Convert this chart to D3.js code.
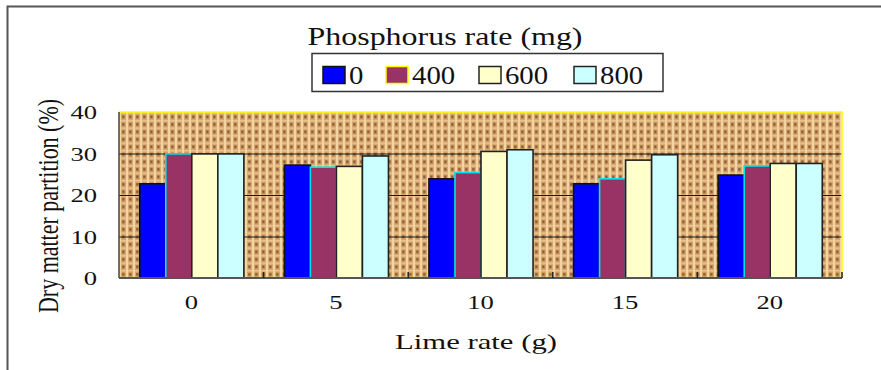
<!DOCTYPE html>
<html>
<head>
<meta charset="utf-8">
<script src="https://cdn.jsdelivr.net/npm/d3@7"></script>
<style>
  body { margin: 0; background: #fff; }
  svg text { font-family: "Liberation Serif", "Times New Roman", Times, serif !important; fill: #111; }
</style>
</head>
<body>
<script>
// data
let limeRates = ['0', '5', '10', '15', '20']
let phosphorusRates = ['0', '400', '600', '800']
let p0   = [22.7, 27.2, 23.9, 22.7, 24.8]
let p400 = [29.9, 26.7, 25.4, 23.9, 27.0]
let p600 = [29.9, 26.9, 30.5, 28.4, 27.6]
let p800 = [29.9, 29.4, 30.9, 29.7, 27.6]
let yTicks = [0, 10, 20, 30, 40]

let seriesValues = [p0, p400, p600, p800]
let fills = ['#0000ff', '#993366', '#ffffcc', '#ccffff']
let strokes = ['#111', '#00e5ee', '#222', '#222']
let legendStrokes = ['#111', '#ffff00', '#222', '#222']

let width = 881
let height = 370
let margin = { top: 112, right: 39, bottom: 92, left: 119 }

let data = limeRates.map((lime, i) => {
  let row = { lime }
  phosphorusRates.forEach((p, j) => { row[p] = seriesValues[j][i] })
  return row
})

// stretch text horizontally like the source picture
function stretch(sel, sx) {
  sel.each(function () {
    let w = this.getComputedTextLength()
    d3.select(this).attr('textLength', w * sx).attr('lengthAdjust', 'spacingAndGlyphs')
  })
}

const svg = d3.select('body').append('svg')
    .attr('width', width)
    .attr('height', height)

// burlap texture
let defs = svg.append('defs')
let pat = defs.append('pattern')
    .attr('id', 'burlap')
    .attr('patternUnits', 'userSpaceOnUse')
    .attr('width', 7).attr('height', 7.5)
pat.append('rect').attr('width', 7).attr('height', 7.5).attr('fill', '#d6a66d')
pat.append('rect').attr('x', 0).attr('y', 0).attr('width', 7).attr('height', 1.5).attr('fill', '#e8c28c')
pat.append('rect').attr('x', 0).attr('y', 0).attr('width', 2).attr('height', 7.5).attr('fill', '#f2d5a2')
pat.append('rect').attr('x', 3).attr('y', 2.8).attr('width', 2.8).attr('height', 3.2).attr('fill', '#a6754a')
pat.append('rect').attr('x', 3.6).attr('y', 3.5).attr('width', 1.4).attr('height', 1.6).attr('fill', '#835633')

// outer frame (left + top only visible)
svg.append('path')
    .attr('d', `M7.5,${height} V6.5 H${width}`)
    .attr('fill', 'none')
    .attr('stroke', '#555')
    .attr('stroke-width', 2)

let x = d3.scaleBand()
    .domain(limeRates)
    .range([margin.left, width - margin.right])
    .paddingInner(0.28)
    .paddingOuter(0.14)

let xs = d3.scaleBand()
    .domain(phosphorusRates)
    .range([0, x.bandwidth()])

let y = d3.scaleLinear()
    .domain([0, 40])
    .range([height - margin.bottom, margin.top])

let color = d3.scaleOrdinal().domain(phosphorusRates).range(fills)
let stroke = d3.scaleOrdinal().domain(phosphorusRates).range(strokes)

// plot background
svg.append('rect')
    .attr('x', margin.left)
    .attr('y', margin.top)
    .attr('width', width - margin.right - margin.left)
    .attr('height', y(0) - y(40))
    .attr('fill', 'url(#burlap)')

// gridlines
svg.append('g')
  .selectAll('line')
  .data(yTicks.filter(d => d > 0 && d < 40))
  .join('line')
    .attr('x1', margin.left)
    .attr('x2', width - margin.right)
    .attr('y1', d => y(d) + 0.5)
    .attr('y2', d => y(d) + 0.5)
    .attr('stroke', '#1a1a1a')
    .attr('stroke-width', 1.2)

// top and right border (yellow)
svg.append('path')
    .attr('d', `M${margin.left},${y(40)} H${width - margin.right} V${y(0)}`)
    .attr('fill', 'none')
    .attr('stroke', '#ffff00')
    .attr('stroke-width', 1.5)

// left border
svg.append('line')
    .attr('x1', margin.left).attr('x2', margin.left)
    .attr('y1', y(40)).attr('y2', y(0))
    .attr('stroke', '#444')
    .attr('stroke-width', 1.5)

// bars
svg.append('g')
  .selectAll('g')
  .data(data)
  .join('g')
    .attr('transform', d => `translate(${x(d.lime)},0)`)
  .selectAll('rect')
  .data(d => phosphorusRates.map(p => ({ key: p, value: d[p] })))
  .join('rect')
    .attr('x', d => xs(d.key) + 0.5)
    .attr('y', d => y(d.value))
    .attr('width', xs.bandwidth())
    .attr('height', d => y(0) - y(d.value))
    .attr('fill', d => color(d.key))
    .attr('stroke', d => stroke(d.key))
    .attr('stroke-width', 1.6)

// x axis line and boundary ticks
svg.append('line')
    .attr('x1', margin.left).attr('x2', width - margin.right)
    .attr('y1', y(0)).attr('y2', y(0))
    .attr('stroke', '#555')
    .attr('stroke-width', 2)

svg.append('g')
  .selectAll('line')
  .data(limeRates)
  .join('line')
    .attr('x1', d => x(d) + x.bandwidth() + (x.step() - x.bandwidth()) / 2)
    .attr('x2', d => x(d) + x.bandwidth() + (x.step() - x.bandwidth()) / 2)
    .attr('y1', y(0))
    .attr('y2', y(0) - 6)
    .attr('stroke', '#222')
    .attr('stroke-width', 1.5)

let xAxis = svg.append('g')
    .attr('transform', `translate(0,${y(0)})`)
    .call(d3.axisBottom(x).tickSize(0).tickPadding(18))
xAxis.attr('font-family', null)
xAxis.select('.domain').remove()
xAxis.selectAll('text')
    .style('font-size', '19px')
    .style('fill', '#111')
    .call(stretch, 1.4)

let yAxis = svg.append('g')
    .attr('transform', `translate(${margin.left},0)`)
    .call(d3.axisLeft(y).tickValues(yTicks).tickSize(0).tickPadding(22))
yAxis.attr('font-family', null)
yAxis.select('.domain').remove()
yAxis.selectAll('text')
    .style('font-size', '19px')
    .style('fill', '#111')
    .attr('dy', '0.36em')
    .call(stretch, 1.4)

// axis titles
svg.append('text')
    .attr('x', 476)
    .attr('y', 349)
    .attr('text-anchor', 'middle')
    .style('font-size', '22px')
    .attr('textLength', 162)
    .attr('lengthAdjust', 'spacingAndGlyphs')
    .text('Lime rate (g)')

svg.append('text')
    .attr('transform', `translate(58,206) rotate(-90) scale(1,1.25)`)
    .attr('text-anchor', 'middle')
    .style('font-size', '23px')
    .attr('textLength', 214)
    .attr('lengthAdjust', 'spacingAndGlyphs')
    .text('Dry matter partition (%)')

// legend
svg.append('text')
    .attr('x', 445)
    .attr('y', 45)
    .attr('text-anchor', 'middle')
    .style('font-size', '25px')
    .attr('textLength', 275)
    .attr('lengthAdjust', 'spacingAndGlyphs')
    .text('Phosphorus rate (mg)')

svg.append('rect')
    .attr('x', 312).attr('y', 53.5)
    .attr('width', 351).attr('height', 38)
    .attr('fill', '#fff')
    .attr('stroke', '#333')
    .attr('stroke-width', 1.5)

let legendX = [323, 386, 479, 574]
let lg = svg.append('g')
  .selectAll('g')
  .data(phosphorusRates)
  .join('g')
    .attr('transform', (d, i) => `translate(${legendX[i]},66.5)`)
lg.append('rect')
    .attr('width', 22).attr('height', 17)
    .attr('fill', d => color(d))
    .attr('stroke', (d, i) => legendStrokes[i])
    .attr('stroke-width', 1.5)
lg.append('text')
    .attr('x', 26)
    .attr('y', 17)
    .style('font-size', '25px')
    .text(d => d)
    .call(stretch, 1.15)
</script>
</body>
</html>
